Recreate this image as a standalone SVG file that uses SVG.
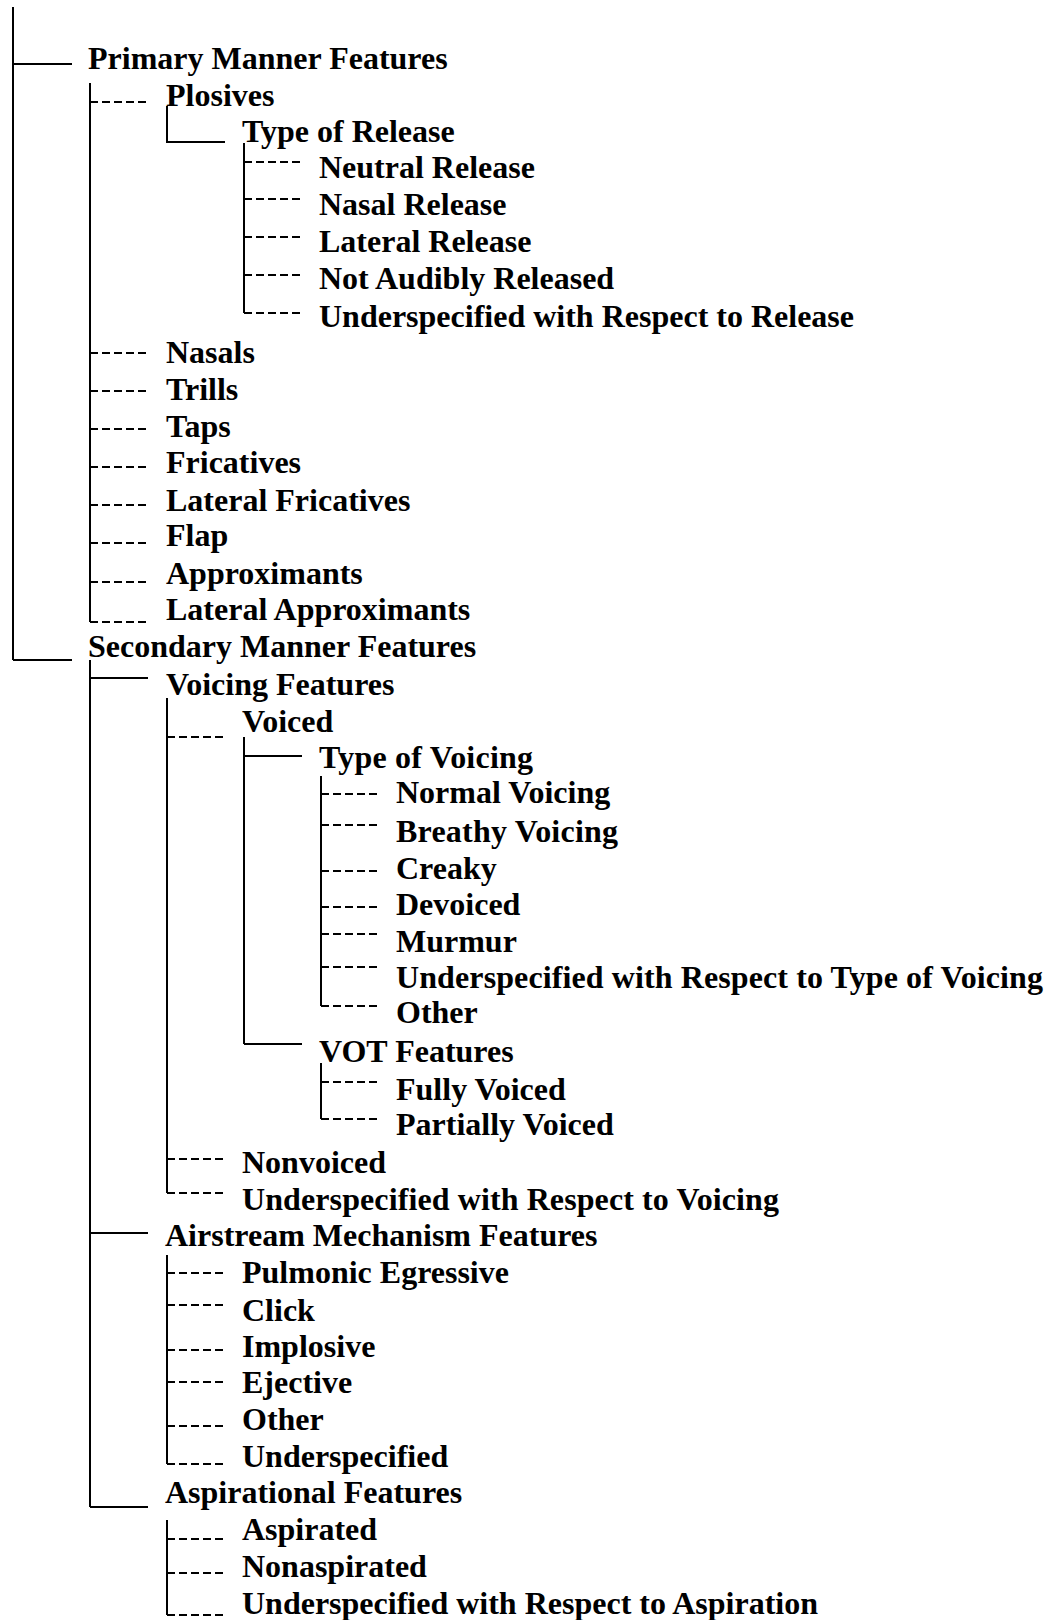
<svg xmlns="http://www.w3.org/2000/svg" width="1048" height="1620" viewBox="0 0 1048 1620">
  <style>
    .lbl { font-family: "Liberation Serif", "Times New Roman", serif; font-weight: bold; font-size: 32px; fill: #000; }
    .solid { stroke: #000; stroke-width: 2; fill: none; }
    .dash { stroke: #000; stroke-width: 2; fill: none; stroke-dasharray: 8 4; }
  </style>
  <rect width="1048" height="1620" fill="#fff"/>

  <!-- tree branches -->
  <g id="connectors">
    <!-- root trunk -->
    <path class="solid" d="M13 7V660M13 64H72M13 660H72"/>
    <!-- Primary Manner Features -->
    <path class="solid" d="M90 83V622"/>
    <path class="dash" d="M90 102H148M90 353H148M90 391H148M90 429H148M90 467H148M90 505H148M90 543H148M90 582H148M90 622H148"/>
    <!-- Plosives -->
    <path class="solid" d="M167 106V142H225"/>
    <!-- Type of Release -->
    <path class="solid" d="M244 143V313"/>
    <path class="dash" d="M244 162H302M244 199H302M244 237H302M244 275H302M244 313H302"/>
    <!-- Secondary Manner Features -->
    <path class="solid" d="M90 660V1507M90 678H148M90 1233H148M90 1507H148"/>
    <!-- Voicing Features -->
    <path class="solid" d="M167 698V1193"/>
    <path class="dash" d="M167 737H225M167 1159H225M167 1193H225"/>
    <!-- Voiced -->
    <path class="solid" d="M244 737V1044M244 756H302M244 1044H302"/>
    <!-- Type of Voicing -->
    <path class="solid" d="M321 776V1006"/>
    <path class="dash" d="M321 794H379M321 825H379M321 871H379M321 907H379M321 934H379M321 967H379M321 1006H379"/>
    <!-- VOT Features -->
    <path class="solid" d="M321 1063V1119"/>
    <path class="dash" d="M321 1082H379M321 1119H379"/>
    <!-- Airstream Mechanism Features -->
    <path class="solid" d="M167 1255V1464"/>
    <path class="dash" d="M167 1273H226M167 1305H226M167 1350H226M167 1382H226M167 1426H226M167 1464H226"/>
    <!-- Aspirational Features -->
    <path class="solid" d="M167 1520V1615"/>
    <path class="dash" d="M167 1539H226M167 1573H226M167 1615H226"/>
  </g>

  <!-- level 1 -->
  <g id="primary-manner"><text class="lbl" x="88" y="69">Primary Manner Features</text></g>
  <g id="secondary-manner"><text class="lbl" x="88" y="657">Secondary Manner Features</text></g>

  <!-- primary manner features -->
  <g id="plosives"><text class="lbl" x="166" y="106">Plosives</text></g>
  <g id="type-of-release"><text class="lbl" x="242" y="142">Type of Release</text></g>
  <g id="neutral-release"><text class="lbl" x="319" y="178">Neutral Release</text></g>
  <g id="nasal-release"><text class="lbl" x="319" y="215">Nasal Release</text></g>
  <g id="lateral-release"><text class="lbl" x="319" y="252">Lateral Release</text></g>
  <g id="not-audibly-released"><text class="lbl" x="319" y="289">Not Audibly Released</text></g>
  <g id="release-underspecified"><text class="lbl" x="319" y="327">Underspecified with Respect to Release</text></g>
  <g id="nasals"><text class="lbl" x="166" y="363">Nasals</text></g>
  <g id="trills"><text class="lbl" x="166" y="400">Trills</text></g>
  <g id="taps"><text class="lbl" x="166" y="437">Taps</text></g>
  <g id="fricatives"><text class="lbl" x="166" y="473">Fricatives</text></g>
  <g id="lateral-fricatives"><text class="lbl" x="166" y="511">Lateral Fricatives</text></g>
  <g id="flap"><text class="lbl" x="166" y="546">Flap</text></g>
  <g id="approximants"><text class="lbl" x="166" y="584">Approximants</text></g>
  <g id="lateral-approximants"><text class="lbl" x="166" y="620">Lateral Approximants</text></g>

  <!-- voicing -->
  <g id="voicing-features"><text class="lbl" x="166" y="695">Voicing Features</text></g>
  <g id="voiced"><text class="lbl" x="242" y="732">Voiced</text></g>
  <g id="type-of-voicing"><text class="lbl" x="319" y="768" textLength="214">Type of Voicing</text></g>
  <g id="normal-voicing"><text class="lbl" x="396" y="803">Normal Voicing</text></g>
  <g id="breathy-voicing"><text class="lbl" x="396" y="842" textLength="222">Breathy Voicing</text></g>
  <g id="creaky"><text class="lbl" x="396" y="879">Creaky</text></g>
  <g id="devoiced"><text class="lbl" x="396" y="915">Devoiced</text></g>
  <g id="murmur"><text class="lbl" x="396" y="952">Murmur</text></g>
  <g id="voicing-type-underspecified"><text class="lbl" x="396" y="988" textLength="647">Underspecified with Respect to Type of Voicing</text></g>
  <g id="voicing-other"><text class="lbl" x="396" y="1023">Other</text></g>
  <g id="vot-features"><text class="lbl" x="319" y="1062">VOT Features</text></g>
  <g id="fully-voiced"><text class="lbl" x="396" y="1100">Fully Voiced</text></g>
  <g id="partially-voiced"><text class="lbl" x="396" y="1135">Partially Voiced</text></g>
  <g id="nonvoiced"><text class="lbl" x="242" y="1173">Nonvoiced</text></g>
  <g id="voicing-underspecified"><text class="lbl" x="242" y="1210" textLength="537">Underspecified with Respect to Voicing</text></g>

  <!-- airstream -->
  <g id="airstream-features"><text class="lbl" x="165" y="1246">Airstream Mechanism Features</text></g>
  <g id="pulmonic-egressive"><text class="lbl" x="242" y="1283">Pulmonic Egressive</text></g>
  <g id="click"><text class="lbl" x="242" y="1321">Click</text></g>
  <g id="implosive"><text class="lbl" x="242" y="1357">Implosive</text></g>
  <g id="ejective"><text class="lbl" x="242" y="1393">Ejective</text></g>
  <g id="airstream-other"><text class="lbl" x="242" y="1430">Other</text></g>
  <g id="airstream-underspecified"><text class="lbl" x="242" y="1467">Underspecified</text></g>

  <!-- aspiration -->
  <g id="aspirational-features"><text class="lbl" x="165" y="1503">Aspirational Features</text></g>
  <g id="aspirated"><text class="lbl" x="242" y="1540">Aspirated</text></g>
  <g id="nonaspirated"><text class="lbl" x="242" y="1577">Nonaspirated</text></g>
  <g id="aspiration-underspecified"><text class="lbl" x="242" y="1614">Underspecified with Respect to Aspiration</text></g>
</svg>
